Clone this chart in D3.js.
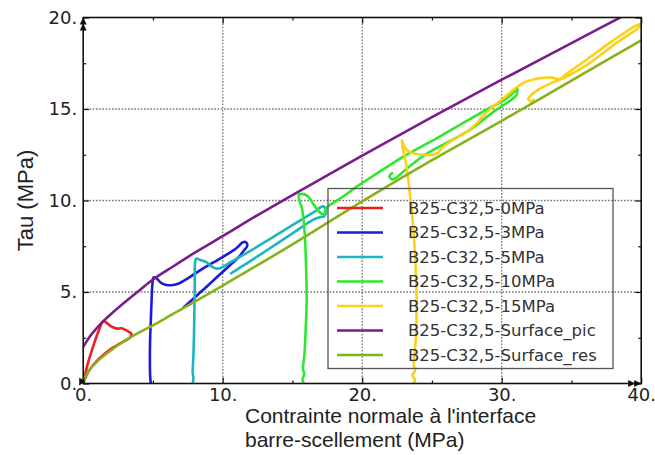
<!DOCTYPE html>
<html><head><meta charset="utf-8">
<script src="https://cdn.jsdelivr.net/npm/d3@7"></script>
<style>body{margin:0;background:#fff}svg{display:block}</style>
</head><body>
<svg id="c" width="655" height="455"></svg>
<script>
// ---- data ----
const xTicks = [0, 10, 20, 30, 40];
const yTicks = [0, 5, 10, 15, 20];
const xMinor = [5, 15, 25, 35];
const yMinor = [2.5, 7.5, 12.5, 17.5];
const xTitle = ["Contrainte normale à l'interface", "barre-scellement (MPa)"];
const yTitle = "Tau (MPa)";
const seriesNames = ["B25-C32,5-0MPa","B25-C32,5-3MPa","B25-C32,5-5MPa","B25-C32,5-10MPa","B25-C32,5-15MPa","B25-C32,5-Surface_pic","B25-C32,5-Surface_res"];
const seriesColors = ["#f01e1e","#1c1cd8","#1fb5c0","#2ee82e","#fcd116","#7b1c8c","#86b21c"];

const s0 = [[0,0],[0.1,0.35],[0.3,1.0],[0.7,2.0],[1.1,2.85],[1.45,3.42],[1.7,3.3],[2.0,3.12],[2.4,3.0],[2.75,3.02],[3.1,2.9],[3.45,2.72],[3.35,2.5],[2.9,2.3],[2.5,2.12],[2.0,1.9],[1.5,1.6],[1.0,1.25],[0.5,0.8],[0.15,0.3],[0,0]];
const s3 = [[4.85,0],[4.8,0.4],[4.78,1.5],[4.8,2.5],[4.85,3.5],[4.9,4.5],[4.95,5.3],[5.05,5.8],[5.25,5.75],[5.55,5.52],[5.9,5.4],[6.3,5.37],[6.8,5.45],[7.5,5.75],[8.4,6.2],[9.3,6.6],[10.2,7.0],[11.0,7.4],[11.45,7.72],[11.7,7.7],[11.75,7.5],[11.5,7.25],[11.2,6.95],[10.5,6.45],[9.0,5.4],[7.2,4.15]];
const s5 = [[7.85,0],[7.9,0.3],[7.85,0.6],[7.9,1.5],[7.95,3],[7.98,4.5],[8.0,5.8],[8.02,6.6],[8.1,6.82],[8.4,6.75],[8.8,6.65],[9.2,6.4],[9.55,6.28],[9.9,6.33],[10.5,6.6],[11.7,7.12],[13.4,7.9],[15,8.65],[16.5,9.35],[17.2,9.68],[17.4,9.5],[17.3,9.15],[17.0,9.1],[16.5,8.95],[15,8.2],[13,7.2],[11.5,6.45],[10.6,6.02]];
const s10 = [[15.8,0],[15.72,0.25],[15.85,0.5],[15.75,0.8],[15.85,1.5],[15.95,3],[16.02,4.6],[15.97,6.5],[15.88,8.2],[15.7,9.5],[15.45,10.3],[15.8,10.35],[16.15,10.2],[16.55,9.75],[16.95,9.35],[17.25,9.25],[17.45,9.6],[18.5,10.15],[19.8,10.85],[21,11.45],[22.95,12.4],[24.5,13.05],[25.8,13.6],[27.5,14.35],[29,15.0],[30.2,15.5],[30.9,15.95],[31.1,16.15],[31.05,15.75],[30.6,15.45],[29.5,14.9],[27.7,13.85],[24.6,12.55],[23.2,11.75],[22.2,11.15],[21.95,11.3],[22.15,11.5]];
const s15 = [[23.7,0],[23.78,0.2],[23.6,0.45],[23.8,0.7],[23.7,1.0],[23.85,2.5],[23.9,4.5],[23.82,6.5],[23.65,8.6],[23.4,10.5],[23.15,12.0],[22.9,12.9],[22.85,13.3],[22.98,13.0],[23.3,12.7],[23.8,12.55],[24.5,12.5],[25.0,12.48],[25.4,12.6],[25.8,12.92],[26.6,13.35],[27.5,13.76],[28.3,14.3],[28.9,14.8],[29.9,15.45],[30.6,15.9],[31.1,16.2],[31.6,16.45],[32.2,16.6],[33.0,16.7],[33.6,16.72],[34.1,16.62],[34.6,16.9],[36,17.65],[38,18.75],[39.5,19.5],[39.95,19.65],[39.8,19.45],[38.2,18.6],[36.2,17.45],[34.6,16.75],[33.5,16.4],[32.6,16.05],[32.1,15.75],[31.9,15.55],[32.1,15.42],[32.3,15.5]];
const surfPic = [[0,2.0],[0.5,2.6],[1,3.05],[1.5,3.45],[2,3.8],[3,4.45],[4,5.07],[5,5.68],[6.5,6.42],[8,7.15],[10,8.05],[12.5,9.2],[15,10.3],[20,12.45],[25,14.55],[30,16.6],[35,18.6],[40,20.6]];
const surfRes = [[0,0],[0.15,0.35],[0.4,0.7],[0.8,1.05],[1.3,1.4],[2,1.82],[3,2.35],[4,2.78],[5,3.18],[6.5,3.83],[8,4.47],[10,5.35],[15,7.6],[20,9.95],[25,12.2],[30,14.35],[35,16.55],[40,18.75]];
const seriesData = [s0, s3, s5, s10, s15, surfPic, surfRes];

// ---- layout ----
const L = 83.2, R = 641.2, T = 17.5, B = 383.5;
const x = d3.scaleLinear().domain([0, 40]).range([L, R]);
const y = d3.scaleLinear().domain([0, 20]).range([B, T]);
const svg = d3.select("#c");
const TICKFONT = "'DejaVu Sans', Verdana, sans-serif";
const TITLEFONT = "'Liberation Sans', Arial, sans-serif";

svg.append("defs").append("clipPath").attr("id","clip")
  .append("rect").attr("x", L).attr("y", T).attr("width", R - L).attr("height", B - T);

// gridlines
const grid = svg.append("g");
grid.selectAll("line.gx").data(xTicks.filter(d => d > 0 && d < 40)).join("line")
  .attr("x1", d => x(d)).attr("x2", d => x(d)).attr("y1", B).attr("y2", T)
  .attr("stroke", "#777").attr("stroke-width", 1.3).attr("stroke-dasharray", "1.6,1.6");
grid.selectAll("line.gy").data(yTicks.filter(d => d > 0 && d < 20)).join("line")
  .attr("x1", L).attr("x2", R).attr("y1", d => y(d)).attr("y2", d => y(d))
  .attr("stroke", "#777").attr("stroke-width", 1.3).attr("stroke-dasharray", "1.6,1.6");

// curves
const line = d3.line().x(d => x(d[0])).y(d => y(d[1])).curve(d3.curveCatmullRom.alpha(0.5));
svg.append("g").attr("clip-path", "url(#clip)")
  .selectAll("path").data(seriesData).join("path")
  .attr("d", d => line(d)).attr("fill", "none")
  .attr("stroke", (d, i) => seriesColors[i]).attr("stroke-width", 2.6)
  .attr("stroke-linejoin", "round").attr("stroke-linecap", "round");

// axes (ticks inward)
function styleAxis(g){ g.select(".domain").remove(); g.selectAll("line").attr("stroke","#111").attr("stroke-width",1.2); }
svg.append("g").attr("transform", `translate(0,${B})`)
  .call(d3.axisBottom(x).tickValues(xTicks).tickFormat(d => d + ".").tickSize(-6).tickPadding(5))
  .call(styleAxis)
  .call(g => g.selectAll("text").attr("font-family", TICKFONT).attr("font-size", 18).attr("fill", "#222"));
svg.append("g").attr("transform", `translate(0,${B})`)
  .call(d3.axisBottom(x).tickValues(xMinor).tickFormat("").tickSize(-3)).call(styleAxis);
svg.append("g").attr("transform", `translate(0,${T})`)
  .call(d3.axisTop(x).tickValues(xTicks).tickFormat("").tickSize(-6)).call(styleAxis);
svg.append("g").attr("transform", `translate(0,${T})`)
  .call(d3.axisTop(x).tickValues(xMinor).tickFormat("").tickSize(-3)).call(styleAxis);
svg.append("g").attr("transform", `translate(${L},0)`)
  .call(d3.axisLeft(y).tickValues(yTicks).tickFormat(d => d + ".").tickSize(-6).tickPadding(6))
  .call(styleAxis)
  .call(g => g.selectAll("text").attr("font-family", TICKFONT).attr("font-size", 18).attr("fill", "#222"));
svg.append("g").attr("transform", `translate(${L},0)`)
  .call(d3.axisLeft(y).tickValues(yMinor).tickFormat("").tickSize(-3)).call(styleAxis);
svg.append("g").attr("transform", `translate(${R},0)`)
  .call(d3.axisRight(y).tickValues(yTicks).tickFormat("").tickSize(-6)).call(styleAxis);
svg.append("g").attr("transform", `translate(${R},0)`)
  .call(d3.axisRight(y).tickValues(yMinor).tickFormat("").tickSize(-3)).call(styleAxis);

// frame
svg.append("rect").attr("x", L).attr("y", T).attr("width", R - L).attr("height", B - T)
  .attr("fill", "none").attr("stroke", "#111").attr("stroke-width", 1.6);

// arrowheads
const ah = svg.append("g").attr("fill", "#111");
[0, 6].forEach(o => {
  ah.append("path").attr("d", `M${L},${T + o} l-3.5,7 l7,0 z`);
  ah.append("path").attr("d", `M${R - o},${B} l-7,-3.5 l0,7 z`);
});
ah.append("path").attr("d", `M${L + 2},${B - 2} l-6,-4 l0,8 z`);

// titles
svg.append("text").attr("transform", `translate(33,${(T + B) / 2}) rotate(-90)`)
  .attr("text-anchor", "middle").attr("font-family", TITLEFONT).attr("font-size", 22)
  .attr("fill", "#222").text(yTitle);
svg.append("g").selectAll("text").data(xTitle).join("text")
  .attr("x", 245).attr("y", (d, i) => 423 + i * 23.5)
  .attr("font-family", TITLEFONT).attr("font-size", 21).attr("fill", "#222").text(d => d);

// legend
const lg = svg.append("g");
lg.append("rect").attr("x", 328).attr("y", 188.5).attr("width", 285).attr("height", 180)
  .attr("fill", "none").attr("stroke", "#555").attr("stroke-width", 1.3);
const rows = lg.selectAll("g.row").data(seriesNames).join("g")
  .attr("transform", (d, i) => `translate(0,${208 + i * 24.5})`);
rows.append("line").attr("x1", 337).attr("x2", 383).attr("y1", 0).attr("y2", 0)
  .attr("stroke", (d, i) => seriesColors[i]).attr("stroke-width", 2.6);
rows.append("text").attr("x", 408).attr("y", 0).attr("dy", "0.36em")
  .attr("font-family", TICKFONT).attr("font-size", 16.5).attr("fill", "#333").text(d => d);
</script>
</body></html>
